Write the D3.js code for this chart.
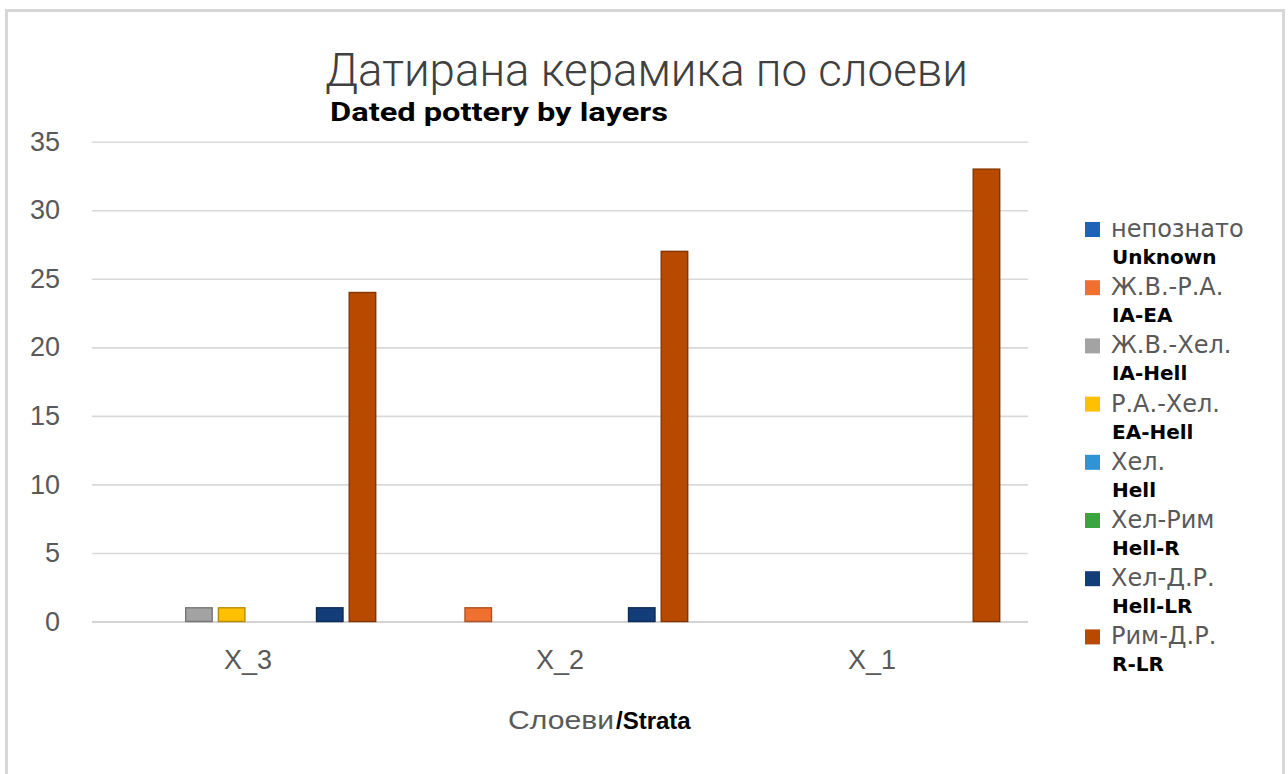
<!DOCTYPE html>
<html>
<head>
<meta charset="utf-8">
<script src="https://cdn.jsdelivr.net/npm/d3@7"></script>
<style>
  html, body { margin: 0; padding: 0; background: #ffffff; }
  svg { display: block; }
</style>
</head>
<body>
<svg id="chart" width="1288" height="774"></svg>
<script>
// Layers (strata), in display order
const categories = ["X_3", "X_2", "X_1"];

// Dating groups: Bulgarian label, English label
const seriesBg = ["непознато", "Ж.В.-Р.А.", "Ж.В.-Хел.", "Р.А.-Хел.", "Хел.", "Хел-Рим", "Хел-Д.Р.", "Рим-Д.Р."];
const seriesEn = ["Unknown", "IA-EA", "IA-Hell", "EA-Hell", "Hell", "Hell-R", "Hell-LR", "R-LR"];
const seriesColors = ["#1f63b8", "#f07030", "#a3a3a3", "#ffc000", "#2f93d6", "#3aa540", "#123d78", "#b84a00"];

// Sherd counts per group, one value per layer (X_3, X_2, X_1)
const valUnknown = [0, 0, 0];
const valIAEA    = [0, 1, 0];
const valIAHell  = [1, 0, 0];
const valEAHell  = [1, 0, 0];
const valHell    = [0, 0, 0];
const valHellR   = [0, 0, 0];
const valHellLR  = [1, 1, 0];
const valRLR     = [24, 27, 33];
const seriesValues = [valUnknown, valIAEA, valIAHell, valEAHell, valHell, valHellR, valHellLR, valRLR];

const yTicks = [0, 5, 10, 15, 20, 25, 30, 35];

const svg = d3.select("#chart");

// chart frame
svg.append("rect")
  .attr("x", 6.5).attr("y", 10.5).attr("width", 1277).attr("height", 800)
  .attr("fill", "#ffffff").attr("stroke", "#d6d6d6").attr("stroke-width", 3);

const plot = { left: 92, right: 1028, top: 141.7, bottom: 621.5 };

const x = d3.scaleBand().domain(categories).range([plot.left, plot.right]).padding(0);
const xs = d3.scaleBand().domain(d3.range(seriesBg.length))
  .range([0, x.bandwidth()]).paddingInner(0.19).paddingOuter(0.865);
const y = d3.scaleLinear().domain([0, 35]).range([plot.bottom, plot.top]);

// gridlines + y tick labels
const yAxis = svg.append("g")
  .attr("transform", `translate(${plot.left},0)`)
  .call(d3.axisLeft(y).tickValues(yTicks).tickSize(-(plot.right - plot.left)).tickPadding(32));
yAxis.select(".domain").remove();
yAxis.selectAll(".tick line")
  .attr("stroke", d => d === 0 ? "#c4c4c4" : "#d9d9d9")
  .attr("stroke-width", 1.6);
yAxis.selectAll(".tick text")
  .attr("fill", "#595959")
  .style("font-family", "'Liberation Sans', Arial, sans-serif")
  .style("font-size", "27px");

// bars
const barData = [];
seriesValues.forEach((vals, si) => {
  vals.forEach((v, ci) => { if (v > 0) barData.push({ si, cat: categories[ci], v }); });
});
svg.append("g").selectAll("rect")
  .data(barData)
  .join("rect")
  .attr("x", d => x(d.cat) + xs(d.si))
  .attr("width", xs.bandwidth())
  .attr("y", d => y(d.v))
  .attr("height", d => y(0) - y(d.v))
  .attr("fill", d => seriesColors[d.si])
  .attr("stroke", d => d3.color(seriesColors[d.si]).darker(0.9))
  .attr("stroke-width", 1.4);

// category labels
const xAxis = svg.append("g")
  .attr("transform", `translate(0,${plot.bottom})`)
  .call(d3.axisBottom(x).tickSize(0).tickPadding(28));
xAxis.select(".domain").remove();
xAxis.selectAll(".tick text")
  .attr("fill", "#595959")
  .style("font-family", "'Liberation Sans', Arial, sans-serif")
  .style("font-size", "27px");

// titles
svg.append("text")
  .attr("x", 325).attr("y", 86)
  .attr("textLength", 643).attr("lengthAdjust", "spacingAndGlyphs")
  .attr("fill", "#404040")
  .style("font-family", "Roboto, 'Open Sans', sans-serif")
  .style("font-weight", 300)
  .style("font-size", "46px")
  .text("Датирана керамика по слоеви");

svg.append("text")
  .attr("x", 330).attr("y", 121)
  .attr("textLength", 338).attr("lengthAdjust", "spacingAndGlyphs")
  .attr("fill", "#000000")
  .style("font-family", "Roboto, 'Liberation Sans', sans-serif")
  .style("font-weight", 700)
  .style("font-size", "26px")
  .text("Dated pottery by layers");

// axis title
const xt = svg.append("text")
  .attr("x", 508).attr("y", 729)
  .style("font-family", "'Liberation Sans', Arial, sans-serif");
xt.append("tspan").attr("fill", "#595959").style("font-size", "26px")
  .attr("textLength", 106).attr("lengthAdjust", "spacingAndGlyphs").text("Слоеви");
xt.append("tspan").attr("fill", "#000000").style("font-size", "24px").style("font-weight", 700)
  .attr("dx", 2).text("/Strata");

// legend
const legend = svg.append("g");
const legItems = legend.selectAll("g")
  .data(d3.range(seriesBg.length))
  .join("g")
  .attr("transform", i => `translate(1085,${237 + i * 58.2})`);
legItems.append("rect")
  .attr("x", 0).attr("y", -15).attr("width", 15).attr("height", 15)
  .attr("fill", i => seriesColors[i]);
legItems.append("text")
  .attr("x", 26).attr("y", 0)
  .attr("fill", "#595959")
  .style("font-family", "'DejaVu Sans', sans-serif")
  .style("font-size", "24px")
  .text(i => seriesBg[i]);
legItems.append("text")
  .attr("x", 27).attr("y", 27)
  .attr("fill", "#000000")
  .style("font-family", "'DejaVu Sans', sans-serif")
  .style("font-weight", 700)
  .style("font-size", "20px")
  .text(i => seriesEn[i]);
</script>
</body>
</html>
